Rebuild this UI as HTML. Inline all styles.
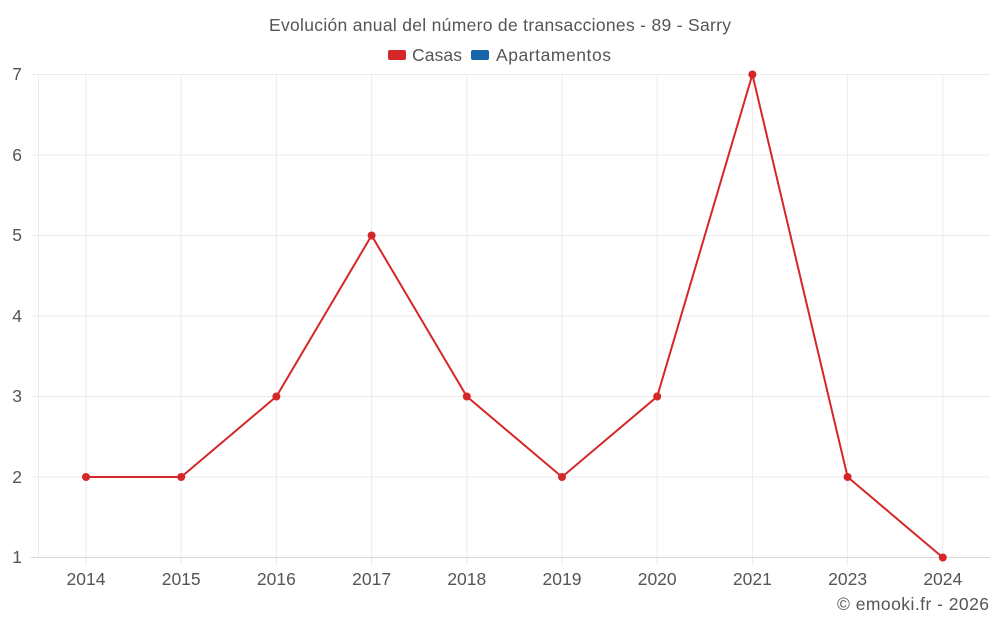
<!DOCTYPE html><html><head><style>body{margin:0;background:#fff}svg{display:block;font-family:"Liberation Sans",Roboto,sans-serif}</style></head><body>
<svg width="1000" height="625" xmlns="http://www.w3.org/2000/svg">
<text x="500" y="31" text-anchor="middle" font-size="17.5" fill="#555" textLength="462">Evolución anual del número de transacciones - 89 - Sarry</text>
<rect x="388" y="50" width="18" height="10" rx="2" fill="#d62728"/><text x="412" y="61" font-size="17.5" fill="#555" textLength="50">Casas</text>
<rect x="471" y="50" width="18" height="10" rx="2" fill="#1565a8"/><text x="496" y="61" font-size="17.5" fill="#555" textLength="115">Apartamentos</text>
<g stroke="#ebebeb" stroke-width="1">
<line x1="31" x2="990" y1="74.5" y2="74.5"/><line x1="31" x2="990" y1="155" y2="155"/><line x1="31" x2="990" y1="235.5" y2="235.5"/><line x1="31" x2="990" y1="316" y2="316"/><line x1="31" x2="990" y1="396.5" y2="396.5"/><line x1="31" x2="990" y1="477" y2="477"/>
<line x1="38.5" x2="38.5" y1="74" y2="557"/>
<line x1="86" x2="86" y1="74" y2="565"/><line x1="181.2" x2="181.2" y1="74" y2="565"/><line x1="276.4" x2="276.4" y1="74" y2="565"/><line x1="371.6" x2="371.6" y1="74" y2="565"/><line x1="466.8" x2="466.8" y1="74" y2="565"/><line x1="562" x2="562" y1="74" y2="565"/><line x1="657.2" x2="657.2" y1="74" y2="565"/><line x1="752.4" x2="752.4" y1="74" y2="565"/><line x1="847.6" x2="847.6" y1="74" y2="565"/><line x1="942.8" x2="942.8" y1="74" y2="565"/>
</g>
<line x1="31" x2="990" y1="557.5" y2="557.5" stroke="#d6d6d6"/>
<g font-size="17.5" fill="#555" text-anchor="end">
<text x="22" y="80">7</text><text x="22" y="161">6</text><text x="22" y="241">5</text><text x="22" y="322">4</text><text x="22" y="402">3</text><text x="22" y="483">2</text><text x="22" y="563">1</text></g>
<g font-size="17.5" fill="#555" text-anchor="middle">
<text x="86" y="585">2014</text><text x="181.2" y="585">2015</text><text x="276.4" y="585">2016</text><text x="371.6" y="585">2017</text><text x="466.8" y="585">2018</text><text x="562" y="585">2019</text><text x="657.2" y="585">2020</text><text x="752.4" y="585">2021</text><text x="847.6" y="585">2023</text><text x="942.8" y="585">2024</text></g>
<polyline fill="none" stroke="#d62728" stroke-width="2" points="86,477 181.2,477 276.4,396.5 371.6,235.5 466.8,396.5 562,477 657.2,396.5 752.4,74.5 847.6,477 942.8,557.5"/>
<g fill="#d62728"><circle cx="86" cy="477" r="4"/><circle cx="181.2" cy="477" r="4"/><circle cx="276.4" cy="396.5" r="4"/><circle cx="371.6" cy="235.5" r="4"/><circle cx="466.8" cy="396.5" r="4"/><circle cx="562" cy="477" r="4"/><circle cx="657.2" cy="396.5" r="4"/><circle cx="752.4" cy="74.5" r="4"/><circle cx="847.6" cy="477" r="4"/><circle cx="942.8" cy="557.5" r="4"/></g>
<text x="989" y="610" text-anchor="end" font-size="17.5" fill="#555" textLength="152">© emooki.fr - 2026</text>
</svg></body></html>
